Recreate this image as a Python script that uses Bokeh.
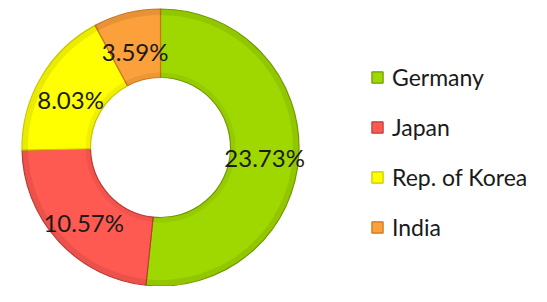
import math
from bokeh.plotting import figure
from bokeh.models import ColumnDataSource, Range1d, Legend, LegendItem
from bokeh.core.properties import value
from bokeh.embed import file_html
from bokeh.resources import INLINE

countries = ["Germany", "Japan", "Rep. of Korea", "India"]
shares = [23.73, 10.57, 8.03, 3.59]
labels = ["23.73%", "10.57%", "8.03%", "3.59%"]
fills = ["#9fd800", "#ff5a52", "#ffff00", "#fba03a"]
edges = ["#6f9a00", "#c03a34", "#c8c800", "#c87420"]

W, H = 531, 286
CX, CY = 160, 139
R_OUT, R_IN = 138.5, 70

total = sum(shares)
starts, ends, lx, ly = [], [], [], []
cum = 0.0
for s in shares:
    a0 = math.pi / 2 - cum / total * 2 * math.pi
    cum += s
    a1 = math.pi / 2 - cum / total * 2 * math.pi
    starts.append(a0)
    ends.append(a1)
    mid = (a0 + a1) / 2
    rm = (R_OUT + R_IN) / 2
    lx.append(CX + rm * math.cos(mid))
    ly.append(CY + rm * math.sin(mid) - 5)

src = ColumnDataSource(dict(country=countries, start=starts, end=ends,
                            fill=fills, edge=edges, x=[CX] * 4, y=[CY] * 4,
                            lx=lx, ly=ly, label=labels))

p = figure(width=W, height=H, output_backend="svg", toolbar_location=None,
           x_range=Range1d(0, W), y_range=Range1d(0, H),
           x_axis_location=None, y_axis_location=None, min_border=0,
           tools="")
p.grid.visible = False
p.outline_line_color = None
p.background_fill_color = "white"

wedges = p.annular_wedge(x="x", y="y", inner_radius=R_IN, outer_radius=R_OUT,
                         start_angle="start", end_angle="end", direction="clock",
                         fill_color="fill", line_color="edge", line_width=1.2,
                         source=src)

# subtle bevel shading near the outer and inner edges
p.annular_wedge(x="x", y="y", inner_radius=R_OUT - 6, outer_radius=R_OUT - 0.5,
                start_angle="start", end_angle="end", direction="clock",
                fill_color="black", fill_alpha=0.08, line_color=None, source=src)
p.annular_wedge(x="x", y="y", inner_radius=R_IN + 0.5, outer_radius=R_IN + 5,
                start_angle="start", end_angle="end", direction="clock",
                fill_color="black", fill_alpha=0.06, line_color=None, source=src)

p.text(x="lx", y="ly", text="label", source=src, text_align="center",
       text_baseline="middle", text_font=value("Lato"), text_font_size="24px",
       text_color="#1a1a1a")

items = [LegendItem(label=c, renderers=[wedges], index=i) for i, c in enumerate(countries)]
legend = Legend(items=items, location=(370, 45), orientation="vertical",
                glyph_width=14, glyph_height=14, label_text_font="Lato",
                label_text_font_size="23px", label_text_color="#1a1a1a",
                spacing=22, label_standoff=8, padding=0, margin=0,
                border_line_color=None, background_fill_alpha=0)
p.add_layout(legend)

open("out.html", "w").write(file_html(p, INLINE))
